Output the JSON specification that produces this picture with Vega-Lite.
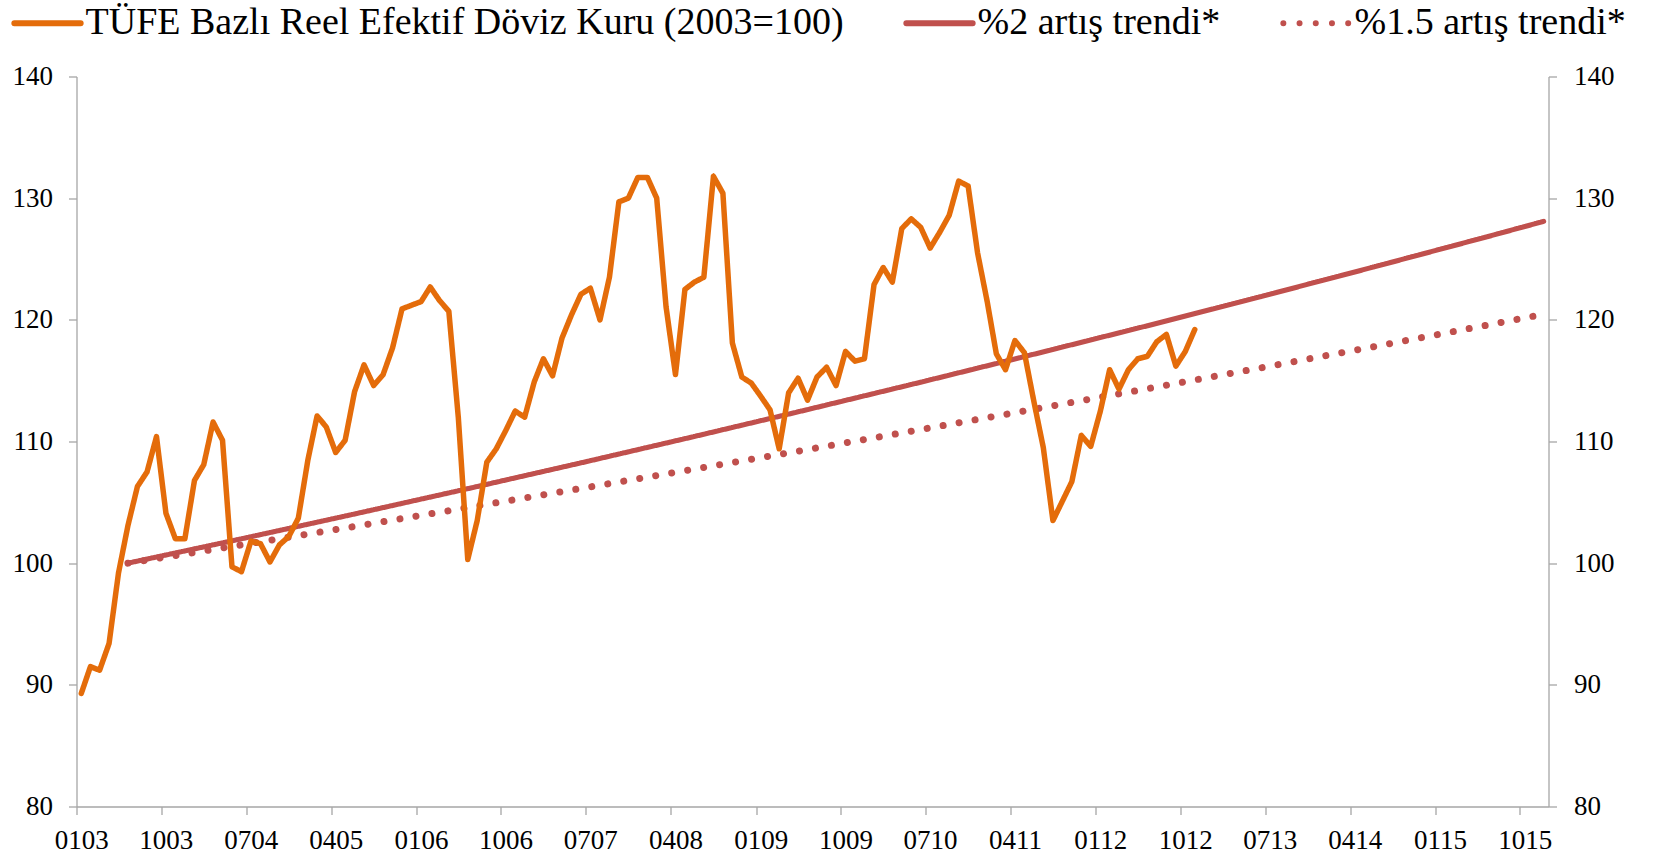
{
  "$schema": "https://vega.github.io/schema/vega-lite/v6.json",
  "width": 1472,
  "height": 730,
  "autosize": {"type": "none"},
  "padding": {"left": 76.5, "top": 76.5, "right": 122.5, "bottom": 49.5},
  "background": "white",
  "data": {
    "values": [
      {"date": "2003-01-01", "reer": 89.3},
      {"date": "2003-02-01", "reer": 91.5},
      {"date": "2003-03-01", "reer": 91.2},
      {"date": "2003-04-01", "reer": 93.4},
      {"date": "2003-05-01", "reer": 99.2},
      {"date": "2003-06-01", "reer": 103.1, "t2": 100, "t15": 100},
      {"date": "2003-07-01", "reer": 106.3},
      {"date": "2003-08-01", "reer": 107.5},
      {"date": "2003-09-01", "reer": 110.4},
      {"date": "2003-10-01", "reer": 104.1},
      {"date": "2003-11-01", "reer": 102.0},
      {"date": "2003-12-01", "reer": 102.0},
      {"date": "2004-01-01", "reer": 106.8},
      {"date": "2004-02-01", "reer": 108.1},
      {"date": "2004-03-01", "reer": 111.6},
      {"date": "2004-04-01", "reer": 110.1},
      {"date": "2004-05-01", "reer": 99.7},
      {"date": "2004-06-01", "reer": 99.3, "t2": 102.0, "t15": 101.5},
      {"date": "2004-07-01", "reer": 101.8},
      {"date": "2004-08-01", "reer": 101.6},
      {"date": "2004-09-01", "reer": 100.1},
      {"date": "2004-10-01", "reer": 101.5},
      {"date": "2004-11-01", "reer": 102.2},
      {"date": "2004-12-01", "reer": 103.7},
      {"date": "2005-01-01", "reer": 108.5},
      {"date": "2005-02-01", "reer": 112.1},
      {"date": "2005-03-01", "reer": 111.2},
      {"date": "2005-04-01", "reer": 109.1},
      {"date": "2005-05-01", "reer": 110.1},
      {"date": "2005-06-01", "reer": 114.1, "t2": 104.04, "t15": 103.02},
      {"date": "2005-07-01", "reer": 116.3},
      {"date": "2005-08-01", "reer": 114.6},
      {"date": "2005-09-01", "reer": 115.5},
      {"date": "2005-10-01", "reer": 117.7},
      {"date": "2005-11-01", "reer": 120.9},
      {"date": "2005-12-01", "reer": 121.2},
      {"date": "2006-01-01", "reer": 121.5},
      {"date": "2006-02-01", "reer": 122.7},
      {"date": "2006-03-01", "reer": 121.6},
      {"date": "2006-04-01", "reer": 120.7},
      {"date": "2006-05-01", "reer": 112.0},
      {"date": "2006-06-01", "reer": 100.3, "t2": 106.12, "t15": 104.57},
      {"date": "2006-07-01", "reer": 103.5},
      {"date": "2006-08-01", "reer": 108.3},
      {"date": "2006-09-01", "reer": 109.4},
      {"date": "2006-10-01", "reer": 110.9},
      {"date": "2006-11-01", "reer": 112.5},
      {"date": "2006-12-01", "reer": 112.0},
      {"date": "2007-01-01", "reer": 114.9},
      {"date": "2007-02-01", "reer": 116.8},
      {"date": "2007-03-01", "reer": 115.4},
      {"date": "2007-04-01", "reer": 118.5},
      {"date": "2007-05-01", "reer": 120.4},
      {"date": "2007-06-01", "reer": 122.1, "t2": 108.24, "t15": 106.14},
      {"date": "2007-07-01", "reer": 122.6},
      {"date": "2007-08-01", "reer": 120.0},
      {"date": "2007-09-01", "reer": 123.5},
      {"date": "2007-10-01", "reer": 129.7},
      {"date": "2007-11-01", "reer": 130.0},
      {"date": "2007-12-01", "reer": 131.7},
      {"date": "2008-01-01", "reer": 131.7},
      {"date": "2008-02-01", "reer": 130.0},
      {"date": "2008-03-01", "reer": 121.1},
      {"date": "2008-04-01", "reer": 115.5},
      {"date": "2008-05-01", "reer": 122.5},
      {"date": "2008-06-01", "reer": 123.1, "t2": 110.41, "t15": 107.73},
      {"date": "2008-07-01", "reer": 123.5},
      {"date": "2008-08-01", "reer": 131.8},
      {"date": "2008-09-01", "reer": 130.4},
      {"date": "2008-10-01", "reer": 118.1},
      {"date": "2008-11-01", "reer": 115.3},
      {"date": "2008-12-01", "reer": 114.8},
      {"date": "2009-01-01", "reer": 113.7},
      {"date": "2009-02-01", "reer": 112.6},
      {"date": "2009-03-01", "reer": 109.4},
      {"date": "2009-04-01", "reer": 114.0},
      {"date": "2009-05-01", "reer": 115.2},
      {"date": "2009-06-01", "reer": 113.4, "t2": 112.62, "t15": 109.34},
      {"date": "2009-07-01", "reer": 115.3},
      {"date": "2009-08-01", "reer": 116.1},
      {"date": "2009-09-01", "reer": 114.6},
      {"date": "2009-10-01", "reer": 117.4},
      {"date": "2009-11-01", "reer": 116.6},
      {"date": "2009-12-01", "reer": 116.8},
      {"date": "2010-01-01", "reer": 122.9},
      {"date": "2010-02-01", "reer": 124.3},
      {"date": "2010-03-01", "reer": 123.1},
      {"date": "2010-04-01", "reer": 127.5},
      {"date": "2010-05-01", "reer": 128.3},
      {"date": "2010-06-01", "reer": 127.6, "t2": 114.87, "t15": 110.98},
      {"date": "2010-07-01", "reer": 125.9},
      {"date": "2010-08-01", "reer": 127.2},
      {"date": "2010-09-01", "reer": 128.6},
      {"date": "2010-10-01", "reer": 131.4},
      {"date": "2010-11-01", "reer": 131.0},
      {"date": "2010-12-01", "reer": 125.5},
      {"date": "2011-01-01", "reer": 121.5},
      {"date": "2011-02-01", "reer": 117.2},
      {"date": "2011-03-01", "reer": 115.9},
      {"date": "2011-04-01", "reer": 118.3},
      {"date": "2011-05-01", "reer": 117.3},
      {"date": "2011-06-01", "reer": 113.3, "t2": 117.17, "t15": 112.65},
      {"date": "2011-07-01", "reer": 109.5},
      {"date": "2011-08-01", "reer": 103.5},
      {"date": "2011-09-01", "reer": 105.1},
      {"date": "2011-10-01", "reer": 106.7},
      {"date": "2011-11-01", "reer": 110.5},
      {"date": "2011-12-01", "reer": 109.6},
      {"date": "2012-01-01", "reer": 112.5},
      {"date": "2012-02-01", "reer": 115.9},
      {"date": "2012-03-01", "reer": 114.3},
      {"date": "2012-04-01", "reer": 115.9},
      {"date": "2012-05-01", "reer": 116.8},
      {"date": "2012-06-01", "reer": 117.0, "t2": 119.51, "t15": 114.34},
      {"date": "2012-07-01", "reer": 118.2},
      {"date": "2012-08-01", "reer": 118.8},
      {"date": "2012-09-01", "reer": 116.2},
      {"date": "2012-10-01", "reer": 117.4},
      {"date": "2012-11-01", "reer": 119.2},
      {"date": "2013-06-01", "t2": 121.90, "t15": 116.05},
      {"date": "2014-06-01", "t2": 124.34, "t15": 117.79},
      {"date": "2015-06-01", "t2": 126.82, "t15": 119.56},
      {"date": "2015-12-01", "t2": 128.09, "t15": 120.46}
    ]
  },
  "transform": [
    {"fold": ["reer", "t2", "t15"], "as": ["series", "value"]},
    {"filter": "isValid(datum.value)"}
  ],
  "encoding": {
    "x": {
      "field": "date",
      "type": "temporal",
      "timeUnit": "utcyearmonth",
      "bandPosition": 0.5,
      "scale": {
        "type": "utc",
        "nice": false,
        "domain": [
          {"year": 2003, "month": 1, "date": 1, "utc": true},
          {"year": 2016, "month": 1, "date": 1, "utc": true}
        ]
      },
      "axis": {
        "title": null,
        "grid": false,
        "values": [
          {"year": 2003, "month": 1, "date": 1, "utc": true},
          {"year": 2003, "month": 10, "date": 1, "utc": true},
          {"year": 2004, "month": 7, "date": 1, "utc": true},
          {"year": 2005, "month": 4, "date": 1, "utc": true},
          {"year": 2006, "month": 1, "date": 1, "utc": true},
          {"year": 2006, "month": 10, "date": 1, "utc": true},
          {"year": 2007, "month": 7, "date": 1, "utc": true},
          {"year": 2008, "month": 4, "date": 1, "utc": true},
          {"year": 2009, "month": 1, "date": 1, "utc": true},
          {"year": 2009, "month": 10, "date": 1, "utc": true},
          {"year": 2010, "month": 7, "date": 1, "utc": true},
          {"year": 2011, "month": 4, "date": 1, "utc": true},
          {"year": 2012, "month": 1, "date": 1, "utc": true},
          {"year": 2012, "month": 10, "date": 1, "utc": true},
          {"year": 2013, "month": 7, "date": 1, "utc": true},
          {"year": 2014, "month": 4, "date": 1, "utc": true},
          {"year": 2015, "month": 1, "date": 1, "utc": true},
          {"year": 2015, "month": 10, "date": 1, "utc": true}
        ],
        "labelExpr": "utcFormat(datum.value, '%m%y')",
        "labelOffset": 4.7,
        "labelPadding": 13,
        "labelAngle": 0,
        "tickSize": 8,
        "labelFlush": false,
        "labelOverlap": false
      }
    },
    "color": {
      "field": "series",
      "type": "nominal",
      "scale": {"domain": ["reer", "t2", "t15"], "range": ["#E46C0A", "#C0504D", "#C0504D"]},
      "legend": {
        "title": null,
        "orient": "none",
        "legendX": -65.5,
        "legendY": -90,
        "direction": "horizontal",
        "labelExpr": "datum.value == 'reer' ? 'TÜFE Bazlı Reel Efektif Döviz Kuru (2003=100)' : datum.value == 't2' ? '%2 artış trendi*' : '%1.5 artış trendi*'",
        "encode": {"symbols": {"update": {"strokeCap": {"value": "round"}}}}
      }
    },
    "strokeDash": {
      "field": "series",
      "type": "nominal",
      "scale": {"domain": ["reer", "t2", "t15"], "range": [[1, 0], [1, 0], [0.01, 16.2]]},
      "legend": {
        "title": null,
        "orient": "none",
        "legendX": -65.5,
        "legendY": -90,
        "direction": "horizontal",
        "labelExpr": "datum.value == 'reer' ? 'TÜFE Bazlı Reel Efektif Döviz Kuru (2003=100)' : datum.value == 't2' ? '%2 artış trendi*' : '%1.5 artış trendi*'",
        "encode": {"symbols": {"update": {"strokeCap": {"value": "round"}}}}
      }
    }
  },
  "layer": [
    {
      "transform": [{"filter": "datum.series == 't2'"}],
      "mark": {
        "type": "line",
        "strokeWidth": 5,
        "strokeCap": "round",
        "strokeJoin": "round"
      },
      "encoding": {
        "y": {
          "field": "value",
          "type": "quantitative",
          "scale": {"domain": [80, 140], "nice": false, "zero": false},
          "axis": {
            "orient": "left",
            "title": null,
            "grid": false,
            "values": [80, 90, 100, 110, 120, 130, 140],
            "tickSize": 8,
            "labelPadding": 16
          }
        }
      }
    },
    {
      "transform": [{"filter": "datum.series == 't15'"}],
      "mark": {
        "type": "line",
        "strokeWidth": 7,
        "strokeCap": "round",
        "strokeJoin": "round"
      },
      "encoding": {
        "y": {
          "field": "value",
          "type": "quantitative",
          "scale": {"domain": [80, 140], "nice": false, "zero": false},
          "axis": null
        }
      }
    },
    {
      "transform": [{"filter": "datum.series == 'reer'"}],
      "mark": {
        "type": "line",
        "strokeWidth": 5.5,
        "strokeCap": "round",
        "strokeJoin": "round"
      },
      "encoding": {
        "y": {
          "field": "value",
          "type": "quantitative",
          "scale": {"domain": [80, 140], "nice": false, "zero": false},
          "axis": null
        }
      }
    },
    {
      "mark": {"type": "point", "opacity": 0},
      "encoding": {
        "color": {"value": "transparent"},
        "strokeDash": {"value": [1, 0]},
        "y": {
          "field": "value",
          "type": "quantitative",
          "scale": {"domain": [80, 140], "nice": false, "zero": false},
          "axis": {
            "orient": "right",
            "title": null,
            "grid": false,
            "values": [80, 90, 100, 110, 120, 130, 140],
            "tickSize": 8,
            "labelPadding": 17
          }
        }
      }
    }
  ],
  "resolve": {"axis": {"y": "independent"}},
  "config": {
    "view": {"stroke": null},
    "font": "Liberation Serif",
    "axis": {
      "labelFont": "Liberation Serif",
      "labelFontSize": 27,
      "labelColor": "#000000",
      "domainColor": "#A6A6A6",
      "tickColor": "#A6A6A6",
      "domainWidth": 1.3,
      "tickWidth": 1.3
    },
    "legend": {
      "labelFont": "Liberation Serif",
      "labelFontSize": 38,
      "labelColor": "#000000",
      "labelLimit": 2000,
      "labelOffset": 1.5,
      "columnPadding": 50,
      "symbolType": "stroke",
      "symbolSize": 4400,
      "symbolStrokeWidth": 6,
      "padding": 0
    }
  }
}
